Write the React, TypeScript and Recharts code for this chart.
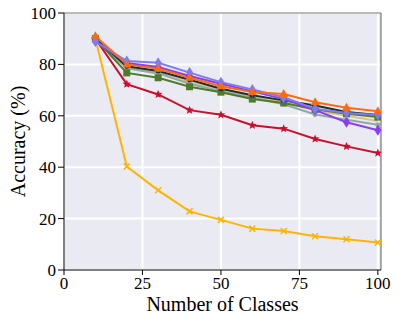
import React from 'react';
import { LineChart, Line, XAxis, YAxis, CartesianGrid, ReferenceLine, Label } from 'recharts';

const classes = [10, 20, 30, 40, 50, 60, 70, 80, 90, 100];
const xTicks = [0, 25, 50, 75, 100];
const yTicks = [0, 20, 40, 60, 80, 100];

const yellowSeries = [90, 40.3, 31, 22.8, 19.5, 16.1, 15.2, 13.1, 12, 10.7];
const redSeries = [90, 72.3, 68.3, 62.2, 60.4, 56.3, 55, 51, 48.1, 45.5];
const tanSeries = [89.5, 79, 77, 73, 70, 67.5, 65.5, 62, 60, 58];
const graySeries = [89.5, 78.5, 76.5, 72.5, 69.5, 67, 64.5, 60.5, 58.5, 56.5];
const greenSeries = [90, 76.7, 74.8, 71.3, 69.2, 66.5, 65, 62.5, 60.8, 59.5];
const darkSeries = [90, 79.3, 77.4, 74, 70.5, 68, 66, 64, 61.5, 60.3];
const purpleSeries = [89, 80.5, 79, 75.5, 72.5, 69.5, 66.5, 62.2, 57.5, 54.4];
const lightPurpleSeries = [89, 81.3, 80.6, 76.8, 73.1, 70.2, 67.2, 62.7, 61.1, 60.3];
const orangeSeries = [91, 80, 78.3, 74.8, 71.5, 69.3, 68.5, 65.3, 63.1, 61.8];

const data = classes.map((c, i) => ({
  x: c,
  yellow: yellowSeries[i],
  red: redSeries[i],
  tan: tanSeries[i],
  gray: graySeries[i],
  green: greenSeries[i],
  dark: darkSeries[i],
  purple: purpleSeries[i],
  lightPurple: lightPurpleSeries[i],
  orange: orangeSeries[i],
}));

const series = [
  { key: 'yellow', color: '#FFB400', marker: 'x' },
  { key: 'red', color: '#C8102E', marker: 'star' },
  { key: 'tan', color: '#D9C28F', marker: 'none' },
  { key: 'gray', color: '#8FAAA2', marker: 'dot' },
  { key: 'green', color: '#4F7A2B', marker: 'square' },
  { key: 'dark', color: '#1A2F33', marker: 'dot' },
  { key: 'purple', color: '#8B3DF5', marker: 'diamond' },
  { key: 'lightPurple', color: '#7E7CF0', marker: 'diamond' },
  { key: 'orange', color: '#FF6A10', marker: 'triangle' },
];

const makeDot = (marker: string, color: string) => (props: any) => {
  const { cx, cy, index } = props;
  if (cx == null || cy == null) return <g key={index} />;
  const k = `d${index}`;
  switch (marker) {
    case 'x':
      return (
        <path key={k} d={`M${cx - 3},${cy - 3}L${cx + 3},${cy + 3}M${cx - 3},${cy + 3}L${cx + 3},${cy - 3}`} stroke={color} strokeWidth={1.5} />
      );
    case 'star': {
      let d = '';
      for (let i = 0; i < 10; i++) {
        const r = i % 2 === 0 ? 4.5 : 2;
        const a = -Math.PI / 2 + (i * Math.PI) / 5;
        d += `${i === 0 ? 'M' : 'L'}${cx + r * Math.cos(a)},${cy + r * Math.sin(a)}`;
      }
      return <path key={k} d={d + 'Z'} fill={color} />;
    }
    case 'square':
      return <rect key={k} x={cx - 3.5} y={cy - 3.5} width={7} height={7} fill={color} />;
    case 'diamond':
      return <path key={k} d={`M${cx},${cy - 5.5}L${cx + 3.5},${cy}L${cx},${cy + 5.5}L${cx - 3.5},${cy}Z`} fill={color} />;
    case 'triangle':
      return <path key={k} d={`M${cx},${cy - 5}L${cx + 4.5},${cy + 3}L${cx - 4.5},${cy + 3}Z`} fill={color} />;
    case 'dot':
      return <circle key={k} cx={cx} cy={cy} r={2.5} fill={color} />;
    default:
      return <g key={k} />;
  }
};

const FONT = 'Liberation Serif';

export default function App() {
  return (
    <div style={{ position: 'absolute', left: 0, top: 0, width: 399, height: 324, background: '#fff' }}>
      <LineChart width={399} height={324} data={data} margin={{ top: 13, right: 18, bottom: 0, left: 0 }}>
        <CartesianGrid fill="#EAEAF2" stroke="#FFFFFF" strokeWidth={2} horizontalValues={yTicks} verticalValues={xTicks} />
        <XAxis
          dataKey="x"
          type="number"
          domain={[0, 101]}
          ticks={xTicks}
          height={54}
          tickLine={{ stroke: '#000' }}
          axisLine={{ stroke: '#000', strokeWidth: 1 }}
          tickSize={5}
          tick={{ fill: '#000', fontSize: 17, fontFamily: FONT }}
          allowDataOverflow
        >
          <Label
            content={(p: any) => {
              const vb = p.viewBox || {};
              const cx = (vb.x ?? 64) + (vb.width ?? 317) / 2;
              return (
                <text x={cx} y={311} textAnchor="middle" fontFamily={FONT} fontSize={20} fill="#000">
                  Number of Classes
                </text>
              );
            }}
          />
        </XAxis>
        <YAxis
          type="number"
          domain={[0, 100]}
          ticks={yTicks}
          width={64}
          tickLine={{ stroke: '#000' }}
          axisLine={{ stroke: '#000', strokeWidth: 1 }}
          tickSize={6}
          tick={{ fill: '#000', fontSize: 17, fontFamily: FONT }}
          allowDataOverflow
        >
          <Label
            content={(p: any) => {
              const vb = p.viewBox || {};
              const cy = (vb.y ?? 13) + (vb.height ?? 257) / 2;
              return (
                <text x={25} y={cy} transform={`rotate(-90, 25, ${cy})`} textAnchor="middle" fontFamily={FONT} fontSize={20} fill="#000">
                  Accuracy (%)
                </text>
              );
            }}
          />
        </YAxis>
        <ReferenceLine y={100} stroke="#777" strokeWidth={1.2} ifOverflow="visible" />
        <ReferenceLine x={101} stroke="#777" strokeWidth={1.2} ifOverflow="visible" />
        {series.map((s) => (
          <Line
            key={s.key}
            dataKey={s.key}
            stroke={s.color}
            strokeWidth={2}
            isAnimationActive={false}
            dot={makeDot(s.marker, s.color)}
            activeDot={false}
          />
        ))}
      </LineChart>
    </div>
  );
}
